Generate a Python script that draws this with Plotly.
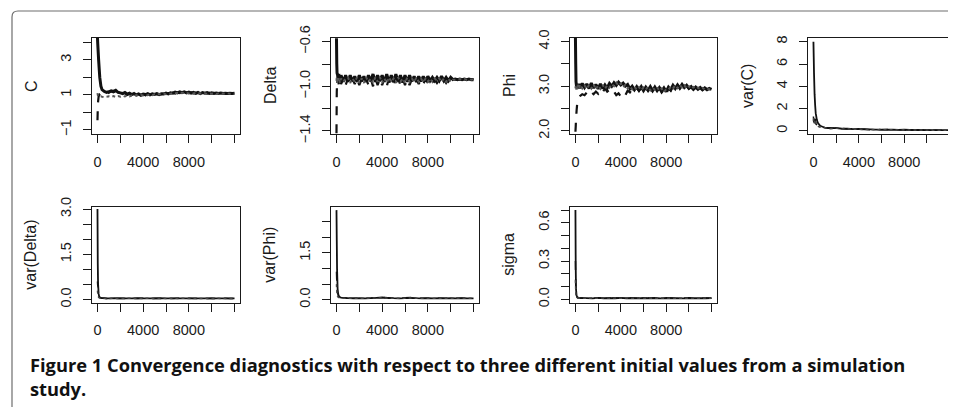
import plotly.graph_objects as go

# ---------------- data ----------------
iters = [0, 25, 50, 100, 150, 200, 300, 400, 600, 800] + list(range(1000, 12001, 200))
iters_var = [0, 25, 50, 100, 150, 200, 300, 400, 600, 800] + list(range(1000, 12001, 500))

x_ticks = [0, 2000, 4000, 6000, 8000, 10000, 12000]
x_ticktext = ["0", "", "4000", "", "8000", "", ""]

# C
C_chain1 = [4.25, 3.9, 3.6, 3.0, 2.5, 2.0, 1.5, 1.3, 1.2, 1.15,
            1.18, 1.24, 1.2, 1.26, 1.15, 1.12, 1.08, 1.14,
            1.05, 1.1, 1.02, 1.08, 1.0, 1.06, 0.98, 1.05,
            1.02, 1.07, 1.0, 1.06, 1.03, 1.08, 1.02, 1.07,
            1.05, 1.1, 1.06, 1.12, 1.1, 1.16, 1.12, 1.18,
            1.13, 1.18, 1.12, 1.16, 1.1, 1.15, 1.09, 1.14,
            1.08, 1.13, 1.1, 1.14, 1.09, 1.12, 1.08, 1.11,
            1.08, 1.11, 1.08, 1.1, 1.08, 1.1, 1.08, 1.09]
C_chain2 = [-0.45, 0.2, 0.6, 0.9, 1.0, 1.05, 1.1, 1.05, 1.0, 1.08,
            1.12, 1.2, 1.15, 1.22, 1.1, 1.16, 1.05, 1.12,
            1.0, 1.06, 0.99, 1.04, 0.97, 1.03, 0.99, 1.04,
            0.98, 1.04, 0.99, 1.05, 1.0, 1.06, 1.01, 1.05,
            1.08, 1.03, 1.1, 1.05, 1.13, 1.08, 1.15, 1.1,
            1.16, 1.11, 1.15, 1.1, 1.14, 1.09, 1.13, 1.08,
            1.12, 1.08, 1.12, 1.07, 1.11, 1.08, 1.11, 1.07,
            1.1, 1.07, 1.1, 1.08, 1.1, 1.08, 1.09, 1.08]
C_chain3 = [1.1, 1.0, 0.95, 0.9, 0.88, 0.9, 0.92, 0.9, 0.88, 0.9,
            0.92, 0.88, 0.93, 0.89, 0.94, 0.9, 0.95, 0.91,
            0.96, 0.92, 0.97, 0.94, 0.99, 0.95, 1.0, 0.97,
            1.01, 0.98, 1.03, 0.99, 1.04, 1.0, 1.05, 1.02,
            1.07, 1.04, 1.09, 1.06, 1.11, 1.08, 1.12, 1.09,
            1.13, 1.1, 1.12, 1.09, 1.12, 1.08, 1.11, 1.08,
            1.1, 1.07, 1.1, 1.06, 1.09, 1.07, 1.1, 1.06,
            1.08, 1.06, 1.08, 1.07, 1.09, 1.07, 1.08, 1.08]
C_ticks = [-1, 0, 1, 2, 3, 4]
C_ticktext = ["\u22121", "", "1", "", "3", ""]

# Delta
Delta_chain1 = [-0.57, -0.80, -0.88, -0.90, -0.96, -0.89, -0.955, -0.90, -0.96, -0.90,
                -0.96, -0.90, -0.955, -0.91, -0.96, -0.90, -0.955, -0.91,
                -0.96, -0.90, -0.955, -0.89, -0.96, -0.90, -0.955, -0.90,
                -0.96, -0.89, -0.965, -0.90, -0.96, -0.89, -0.96, -0.90,
                -0.965, -0.90, -0.96, -0.90, -0.955, -0.91, -0.96, -0.91,
                -0.955, -0.91, -0.955, -0.91, -0.95, -0.92, -0.95, -0.92,
                -0.95, -0.91, -0.95, -0.92, -0.95, -0.92, -0.94, -0.935,
                -0.94, -0.935, -0.94, -0.935, -0.94, -0.935, -0.94, -0.94]
Delta_chain2 = [-1.42, -1.05, -0.98, -0.99, -0.93, -0.99, -0.93, -0.98, -0.93, -0.99,
                -0.93, -0.99, -0.935, -0.98, -0.93, -0.99, -0.935, -0.98,
                -0.93, -0.99, -0.93, -1.0, -0.925, -0.99, -0.93, -0.99,
                -0.93, -1.0, -0.925, -0.99, -0.93, -1.0, -0.925, -0.99,
                -0.93, -0.99, -0.935, -0.99, -0.935, -0.98, -0.935, -0.98,
                -0.94, -0.98, -0.935, -0.97, -0.94, -0.97, -0.94, -0.97,
                -0.94, -0.97, -0.94, -0.97, -0.94, -0.97, -0.935, -0.94,
                -0.935, -0.94, -0.935, -0.94, -0.935, -0.94, -0.935, -0.935]
Delta_chain3 = [-0.95, -0.92, -0.97, -0.93, -0.96, -0.92, -0.97, -0.93, -0.96, -0.93,
                -0.92, -0.97, -0.93, -0.96, -0.92, -0.97, -0.93, -0.97,
                -0.92, -0.96, -0.93, -0.97, -0.92, -0.96, -0.92, -0.97,
                -0.93, -0.97, -0.92, -0.96, -0.93, -0.97, -0.92, -0.96,
                -0.93, -0.97, -0.92, -0.96, -0.93, -0.96, -0.92, -0.96,
                -0.93, -0.96, -0.93, -0.96, -0.93, -0.96, -0.93, -0.95,
                -0.93, -0.96, -0.93, -0.96, -0.93, -0.96, -0.94, -0.94,
                -0.94, -0.935, -0.94, -0.935, -0.94, -0.935, -0.94, -0.935]
Delta_ticks = [-1.4, -1.2, -1.0, -0.8, -0.6]
Delta_ticktext = ["\u22121.4", "", "\u22121.0", "", "\u22120.6"]

# Phi
Phi_chain1 = [4.08, 3.5, 3.1, 2.98, 3.04, 2.95, 3.05, 2.96, 3.06, 2.97,
              3.05, 2.95, 3.07, 2.96, 3.04, 2.94, 3.05, 2.95,
              3.03, 2.96, 3.06, 3.0, 3.08, 3.02, 3.09, 3.03,
              3.07, 3.0, 3.04, 2.94, 3.0, 2.92, 2.99, 2.91,
              2.99, 2.9, 2.98, 2.91, 2.99, 2.9, 2.98, 2.9,
              2.97, 2.89, 2.96, 2.88, 2.98, 2.92, 3.02, 2.95,
              3.03, 2.96, 3.04, 2.97, 3.02, 2.95, 2.99, 2.93,
              2.98, 2.93, 2.97, 2.92, 2.96, 2.92, 2.95, 2.93]
Phi_chain2 = [1.98, 2.1, 2.25, 2.45, 2.6, 2.68, 2.75, 2.78, 2.82, 2.8,
              2.86, 2.8, 2.87, 2.82, 2.88, 2.83, 2.92, 2.86,
              2.95, 2.88, 2.92, 2.84, 2.88, 2.8, 2.84, 2.77,
              2.85, 2.8, 2.9, 2.86, 2.94, 2.89, 2.96, 2.9,
              2.96, 2.89, 2.97, 2.9, 2.96, 2.89, 2.97, 2.9,
              2.95, 2.86, 2.92, 2.82, 2.95, 2.9, 3.0, 2.94,
              3.02, 2.95, 3.03, 2.96, 3.01, 2.95, 2.98, 2.93,
              2.97, 2.93, 2.97, 2.92, 2.96, 2.93, 2.95, 2.93]
Phi_chain3 = [2.95, 3.0, 2.92, 3.02, 2.93, 3.03, 2.94, 3.04, 2.95, 3.02,
              2.94, 3.03, 2.95, 3.04, 2.93, 3.02, 2.94, 3.03,
              2.94, 3.02, 2.97, 3.05, 3.0, 3.08, 3.01, 3.06,
              2.98, 3.03, 2.95, 3.0, 2.93, 2.99, 2.92, 2.98,
              2.91, 2.97, 2.92, 2.99, 2.91, 2.97, 2.92, 2.98,
              2.9, 2.95, 2.87, 2.93, 2.92, 2.99, 2.95, 3.02,
              2.96, 3.03, 2.97, 3.02, 2.95, 3.0, 2.94, 2.98,
              2.94, 2.97, 2.93, 2.96, 2.93, 2.95, 2.93, 2.94]
Phi_ticks = [2.0, 2.5, 3.0, 3.5, 4.0]
Phi_ticktext = ["2.0", "", "3.0", "", "4.0"]

# var(C)
varC_chain1 = [8.0, 6.6, 5.2, 3.3, 2.3, 1.6, 1.0, 0.7, 0.46, 0.38,
               0.3, 0.24, 0.27, 0.2, 0.22, 0.17, 0.18, 0.14, 0.15, 0.12, 0.13, 0.11,
               0.12, 0.1, 0.11, 0.09, 0.1, 0.08, 0.09, 0.08, 0.08, 0.07, 0.07]
varC_chain2 = [1.3, 0.8, 1.25, 0.75, 1.1, 0.65, 0.55, 0.45, 0.38, 0.33,
               0.26, 0.3, 0.21, 0.24, 0.17, 0.2, 0.14, 0.17, 0.12, 0.14, 0.11, 0.13,
               0.1, 0.12, 0.09, 0.11, 0.08, 0.1, 0.08, 0.09, 0.07, 0.08, 0.07]
varC_chain3 = [0.9, 1.15, 0.7, 1.0, 0.6, 0.85, 0.5, 0.42, 0.34, 0.3,
               0.28, 0.22, 0.24, 0.18, 0.2, 0.15, 0.16, 0.13, 0.14, 0.11, 0.12, 0.1,
               0.11, 0.09, 0.1, 0.08, 0.09, 0.08, 0.08, 0.07, 0.07, 0.07, 0.06]
varC_ticks = [0, 2, 4, 6, 8]
varC_ticktext = ["0", "2", "4", "6", "8"]

# var(Delta)
varDelta_chain1 = [3.0, 1.2, 0.55, 0.2, 0.1, 0.08, 0.06, 0.05, 0.05, 0.045,
                   0.04, 0.05, 0.04, 0.045, 0.04, 0.05, 0.04, 0.045, 0.04, 0.05, 0.04, 0.045,
                   0.04, 0.045, 0.04, 0.045, 0.04, 0.045, 0.04, 0.045, 0.04, 0.04, 0.04]
varDelta_chain2 = [0.6, 0.45, 0.5, 0.15, 0.09, 0.07, 0.06, 0.05, 0.045, 0.04,
                   0.045, 0.04, 0.05, 0.04, 0.045, 0.04, 0.05, 0.04, 0.045, 0.04, 0.05, 0.04,
                   0.045, 0.04, 0.045, 0.04, 0.045, 0.04, 0.045, 0.04, 0.045, 0.04, 0.04]
varDelta_chain3 = [0.3, 0.2, 0.12, 0.08, 0.06, 0.055, 0.05, 0.045, 0.04, 0.04,
                   0.042, 0.046, 0.042, 0.048, 0.042, 0.046, 0.042, 0.048, 0.042, 0.046, 0.042, 0.046,
                   0.042, 0.046, 0.042, 0.046, 0.042, 0.044, 0.042, 0.044, 0.042, 0.042, 0.042]
varDelta_ticks = [0, 0.5, 1.0, 1.5, 2.0, 2.5, 3.0]
varDelta_ticktext = ["0.0", "", "", "1.5", "", "", "3.0"]

# var(Phi)
varPhi_chain1 = [2.87, 1.9, 1.0, 0.35, 0.15, 0.1, 0.08, 0.07, 0.06, 0.055,
                 0.05, 0.045, 0.05, 0.045, 0.05, 0.06, 0.07, 0.06, 0.05, 0.045, 0.05, 0.06,
                 0.05, 0.045, 0.05, 0.045, 0.05, 0.045, 0.05, 0.045, 0.05, 0.045, 0.045]
varPhi_chain2 = [0.9, 0.6, 0.4, 0.2, 0.22, 0.12, 0.09, 0.07, 0.06, 0.05,
                 0.045, 0.05, 0.045, 0.05, 0.045, 0.07, 0.08, 0.05, 0.045, 0.05, 0.06, 0.07,
                 0.045, 0.05, 0.045, 0.05, 0.045, 0.05, 0.045, 0.05, 0.045, 0.05, 0.045]
varPhi_chain3 = [0.5, 0.3, 0.2, 0.1, 0.08, 0.07, 0.06, 0.055, 0.05, 0.05,
                 0.048, 0.044, 0.048, 0.044, 0.05, 0.055, 0.06, 0.05, 0.048, 0.044, 0.05, 0.055,
                 0.048, 0.044, 0.048, 0.044, 0.048, 0.044, 0.048, 0.044, 0.048, 0.044, 0.044]
varPhi_ticks = [0, 0.5, 1.0, 1.5, 2.0, 2.5]
varPhi_ticktext = ["0.0", "", "", "1.5", "", ""]

# sigma
sigma_chain1 = [0.70, 0.25, 0.08, 0.03, 0.02, 0.015, 0.012, 0.011, 0.01, 0.01,
                0.01, 0.008, 0.012, 0.009, 0.011, 0.008, 0.012, 0.009, 0.011, 0.008, 0.011, 0.009,
                0.011, 0.008, 0.011, 0.009, 0.01, 0.008, 0.011, 0.009, 0.01, 0.009, 0.01]
sigma_chain2 = [0.3, 0.1, 0.04, 0.02, 0.015, 0.012, 0.011, 0.01, 0.01, 0.009,
                0.008, 0.012, 0.009, 0.011, 0.008, 0.012, 0.009, 0.011, 0.008, 0.011, 0.009, 0.011,
                0.008, 0.011, 0.009, 0.01, 0.008, 0.011, 0.009, 0.01, 0.009, 0.01, 0.009]
sigma_chain3 = [0.15, 0.06, 0.03, 0.015, 0.012, 0.011, 0.01, 0.01, 0.009, 0.01,
                0.009, 0.01, 0.009, 0.011, 0.009, 0.01, 0.009, 0.011, 0.009, 0.01, 0.009, 0.01,
                0.009, 0.01, 0.009, 0.01, 0.009, 0.01, 0.009, 0.01, 0.009, 0.01, 0.009]
sigma_ticks = [0, 0.1, 0.2, 0.3, 0.4, 0.5, 0.6, 0.7]
sigma_ticktext = ["0.0", "", "", "0.3", "", "", "0.6", ""]

caption_lines = ["Figure 1 Convergence diagnostics with respect to three different initial values from a simulation",
                 "study."]

panels = [
    ("C", iters, [C_chain1, C_chain2, C_chain3], [-1.23, 4.25], C_ticks, C_ticktext),
    ("Delta", iters, [Delta_chain1, Delta_chain2, Delta_chain3], [-1.427, -0.567], Delta_ticks, Delta_ticktext),
    ("Phi", iters, [Phi_chain1, Phi_chain2, Phi_chain3], [1.93, 4.08], Phi_ticks, Phi_ticktext),
    ("var(C)", iters_var, [varC_chain1, varC_chain2, varC_chain3], [-0.27, 8.33], varC_ticks, varC_ticktext),
    ("var(Delta)", iters_var, [varDelta_chain1, varDelta_chain2, varDelta_chain3], [-0.10, 3.08], varDelta_ticks, varDelta_ticktext),
    ("var(Phi)", iters_var, [varPhi_chain1, varPhi_chain2, varPhi_chain3], [-0.096, 2.98], varPhi_ticks, varPhi_ticktext),
    ("sigma", iters_var, [sigma_chain1, sigma_chain2, sigma_chain3], [-0.026, 0.726], sigma_ticks, sigma_ticktext),
]

for name, xs, chains, *_ in panels:
    for ch in chains:
        assert len(ch) == len(xs), (name, len(ch), len(xs))

# ---------------- layout geometry (window pixels) ----------------
# The page body has an 8px margin, so the figure is made 8px smaller and
# all window positions are shifted by that offset.
OFF = 8
W, H = 956 - OFF, 407 - OFF


def px_x(p):
    return (p - OFF) / W


def px_y(p):
    return 1 - (p - OFF) / H


col_px = [(92, 240), (331, 479), (570, 717), (808, 955)]
row_px = [(38, 134), (206.7, 302.7)]
positions = [(0, 0), (0, 1), (0, 2), (0, 3), (1, 0), (1, 1), (1, 2)]

FONT = "Liberation Sans, Arial, sans-serif"
INK = "#1a1a1a"
band_styles = [dict(dash="solid", color="#111111", width=3.0),
               dict(dash="dash", color="#111111", width=2.2),
               dict(dash="dot", color="#555555", width=2.0)]
var_styles = [dict(dash="solid", color="#111111", width=1.8),
              dict(dash="dash", color="#111111", width=1.5),
              dict(dash="dot", color="#444444", width=1.5)]

fig = go.Figure()
layout = dict(width=W, height=H, margin=dict(l=0, r=0, t=0, b=0, autoexpand=False),
              paper_bgcolor="white", plot_bgcolor="white", showlegend=False)
annotations = []

for i, (name, xs, chains, yr, yt, ytt) in enumerate(panels):
    r, c = positions[i]
    x0, x1 = col_px[c]
    y0, y1 = row_px[r]
    k = "" if i == 0 else str(i + 1)
    styles = band_styles if i < 3 else var_styles
    for ch, st in zip(chains, styles):
        fig.add_trace(go.Scatter(x=xs, y=ch, mode="lines", line=dict(simplify=False, **st),
                                 xaxis="x" + k, yaxis="y" + k, hoverinfo="skip"))
    common = dict(showgrid=False, zeroline=False, showline=True, mirror=True,
                  linecolor=INK, linewidth=1.2, ticks="outside", ticklen=8,
                  tickwidth=1.1, tickcolor=INK, automargin=False, ticklabelstandoff=6,
                  tickfont=dict(family=FONT, size=14.5, color=INK))
    layout["xaxis" + k] = dict(domain=[px_x(x0), px_x(x1)], anchor="y" + k,
                               range=[-480, 12480], tickmode="array",
                               tickvals=x_ticks, ticktext=x_ticktext, **common)
    layout["yaxis" + k] = dict(domain=[px_y(y1), px_y(y0)], anchor="x" + k,
                               range=yr, tickmode="array", tickvals=yt,
                               ticktext=ytt, tickangle=-90, **common)
    annotations.append(dict(text=name, xref="paper", yref="paper",
                            x=px_x(x0 - 61), y=px_y((y0 + y1) / 2),
                            xanchor="center", yanchor="middle", textangle=-90,
                            showarrow=False, font=dict(family=FONT, size=16, color=INK)))

CAP_FONT = dict(family="Open Sans, sans-serif", size=18.3, color="#111", weight="bold")
annotations.append(dict(text="<br>".join(caption_lines), xref="paper", yref="paper",
                        x=px_x(28), y=px_y(376), xanchor="left", yanchor="middle",
                        align="left", showarrow=False, font=CAP_FONT))
layout["annotations"] = annotations

# outer rounded frame (caption box)
rad = 6
path = (f"M {px_x(12)},-0.1 L {px_x(12)},{px_y(11 + rad)} "
        f"Q {px_x(12)},{px_y(11)} {px_x(12 + rad)},{px_y(11)} L 1.1,{px_y(11)}")
layout["shapes"] = [dict(type="path", path=path, xref="paper", yref="paper",
                         line=dict(color="#6e6e6e", width=1.2))]

fig.update_layout(**layout)
fig.write_html("out.html")
